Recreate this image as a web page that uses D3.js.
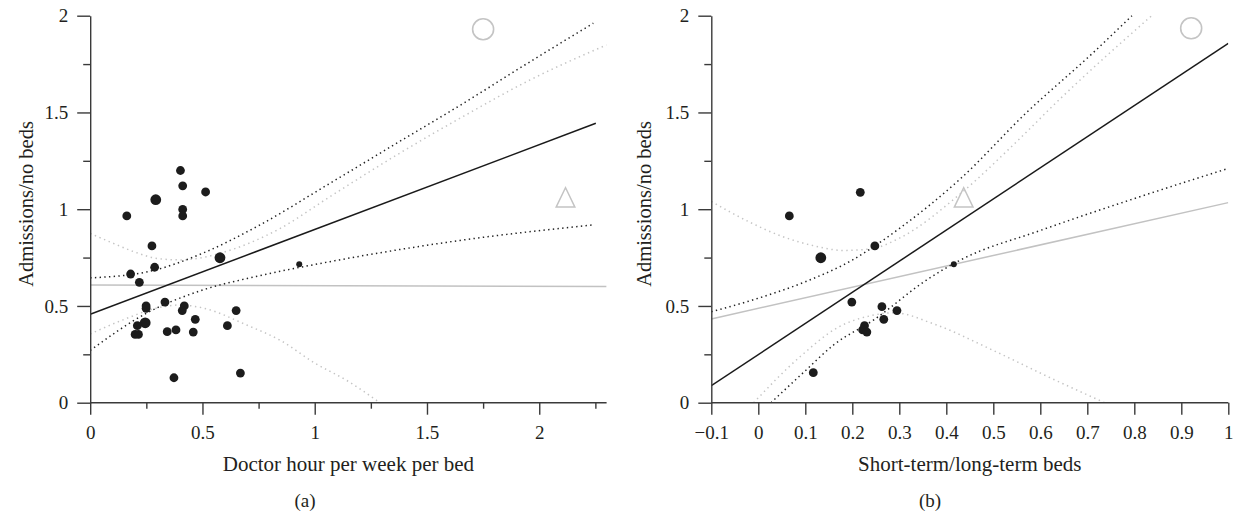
<!DOCTYPE html>
<html>
<head>
<meta charset="utf-8">
<script src="https://cdn.jsdelivr.net/npm/d3@7"></script>
<style>
  body { margin: 0; background: #fff; }
  svg text { font-family: "Liberation Serif", "DejaVu Serif", serif; fill: #231f20; }
</style>
</head>
<body>
<svg id="chart" width="1234" height="516"></svg>
<script>
// ---- panel (a): doctor hours ----
const aPointX = [0.402, 0.412, 0.514, 0.292, 0.412, 0.412, 0.163, 0.275, 0.578, 0.931,
                 0.287, 0.180, 0.219, 0.333, 0.249, 0.249, 0.419, 0.410, 0.650, 0.468,
                 0.245, 0.210, 0.200, 0.215, 0.611, 0.343, 0.382, 0.459, 0.373, 0.669];
const aPointY = [1.200, 1.121, 1.089, 1.049, 0.999, 0.965, 0.965, 0.810, 0.749, 0.715,
                 0.700, 0.665, 0.622, 0.520, 0.500, 0.488, 0.500, 0.476, 0.476, 0.431,
                 0.413, 0.398, 0.353, 0.353, 0.398, 0.367, 0.376, 0.365, 0.129, 0.153];
const aPointW = [1, 1, 1, 2, 1, 1, 1, 1, 2, 0, 1, 1, 1, 1, 1, 1, 1, 1, 1, 1,
                 2, 1, 1, 1, 1, 1, 1, 1, 1, 1];

const aFitX = [0, 2.252], aFitY = [0.457, 1.444];
const aFlatX = [0, 2.3], aFlatY = [0.608, 0.600];
const aCiUpX = [0, 0.25, 0.5, 0.75, 1.068, 1.365, 1.662, 1.959, 2.241];
const aCiUpY = [0.645, 0.675, 0.772, 0.915, 1.134, 1.341, 1.547, 1.762, 1.961];
const aCiLoX = [0, 0.25, 0.5, 0.75, 1.068, 1.662, 2.234];
const aCiLoY = [0.270, 0.462, 0.582, 0.655, 0.729, 0.841, 0.918];
const aGrayUpX = [0, 0.1, 0.2, 0.3, 0.4, 0.5, 0.578, 0.845, 1.068, 1.365, 1.662, 1.959, 2.3];
const aGrayUpY = [0.875, 0.825, 0.778, 0.745, 0.738, 0.750, 0.772, 0.900, 1.065, 1.280, 1.480, 1.668, 1.849];
const aGrayLoX = [0, 0.15, 0.3, 0.4, 0.5, 0.7, 0.85, 1.0, 1.15, 1.29];
const aGrayLoY = [0.355, 0.430, 0.490, 0.505, 0.490, 0.400, 0.320, 0.205, 0.110, 0];
const aMarkX = [1.75, 2.117], aMarkY = [1.93, 1.05];

// ---- panel (b): short-term / long-term beds ----
const bPointX = [0.217, 0.066, 0.248, 0.133, 0.416, 0.199, 0.263, 0.295, 0.267, 0.226, 0.222, 0.231, 0.117];
const bPointY = [1.087, 0.965, 0.810, 0.749, 0.715, 0.520, 0.496, 0.476, 0.431, 0.398, 0.376, 0.365, 0.155];
const bPointW = [1, 1, 1, 2, 0, 1, 1, 1, 1, 1, 1, 1, 1];

const bFitX = [-0.1, 1.0], bFitY = [0.088, 1.857];
const bFlatX = [-0.1, 1.0], bFlatY = [0.433, 1.034];
const bCiUpX = [-0.1, 0.0, 0.1, 0.2, 0.3, 0.429, 0.571, 0.713, 0.795];
const bCiUpY = [0.470, 0.540, 0.625, 0.737, 0.900, 1.155, 1.500, 1.810, 2.0];
const bCiLoX = [0.027, 0.1, 0.16, 0.245, 0.358, 0.429, 0.6, 0.8, 1.0];
const bCiLoY = [0, 0.165, 0.298, 0.427, 0.634, 0.736, 0.890, 1.055, 1.211];
const bGrayUpX = [-0.1, -0.02, 0.05, 0.12, 0.18, 0.24, 0.3, 0.43, 0.55, 0.642, 0.837];
const bGrayUpY = [1.040, 0.935, 0.860, 0.810, 0.787, 0.795, 0.850, 1.080, 1.350, 1.570, 2.0];
const bGrayLoX = [-0.01, 0.09, 0.17, 0.24, 0.29, 0.37, 0.5, 0.62, 0.737];
const bGrayLoY = [0, 0.240, 0.390, 0.450, 0.465, 0.410, 0.270, 0.130, 0];
const bMarkX = [0.921, 0.437], bMarkY = [1.935, 1.05];

// ---- axes ----
const yMajor = [0, 0.5, 1, 1.5, 2];
const yMinor = [0.25, 0.75, 1.25, 1.75];
const aXMajor = [0, 0.5, 1, 1.5, 2];
const aXMinor = [0.25, 0.75, 1.25, 1.75, 2.25];
const bXMajor = [-0.1, 0, 0.1, 0.2, 0.3, 0.4, 0.5, 0.6, 0.7, 0.8, 0.9, 1];

const svg = d3.select("#chart");
const zip = (xs, ys) => xs.map((x, i) => [x, ys[i]]);

function panel(o) {
  const x = d3.scaleLinear().domain(o.xDomain).range(o.xRange);
  const y = d3.scaleLinear().domain([0, 2]).range([402.7, 15.7]);
  const g = svg.append("g");

  const clipId = "clip-" + o.tag;
  svg.append("clipPath").attr("id", clipId)
    .append("rect")
    .attr("x", o.xRange[0]).attr("y", y(2) - 1)
    .attr("width", o.xRange[1] - o.xRange[0]).attr("height", y(0) - y(2) + 1);

  const plot = g.append("g").attr("clip-path", `url(#${clipId})`);
  const line = d3.line().x(d => x(d[0])).y(d => y(d[1])).curve(d3.curveMonotoneX);

  // gray reference band and line
  [o.grayUp, o.grayLo].forEach(d => plot.append("path").attr("d", line(d))
    .attr("fill", "none").attr("stroke", "#c4c4c4").attr("stroke-width", 1.5)
    .attr("stroke-dasharray", "1.4 3.6"));
  plot.append("path").attr("d", line(o.flat))
    .attr("fill", "none").attr("stroke", "#c2c2c2").attr("stroke-width", 1.5);

  // regression and its interval
  [o.ciUp, o.ciLo].forEach(d => plot.append("path").attr("d", line(d))
    .attr("fill", "none").attr("stroke", "#222").attr("stroke-width", 1.5)
    .attr("stroke-dasharray", "1.4 3.3"));
  plot.append("path").attr("d", line(o.fit))
    .attr("fill", "none").attr("stroke", "#1a1a1a").attr("stroke-width", 1.5);

  // points
  const rad = [3, 4.4, 5.4];
  plot.selectAll("circle.pt").data(o.points).join("circle")
    .attr("class", "pt")
    .attr("cx", d => x(d[0])).attr("cy", d => y(d[1]))
    .attr("r", d => rad[d[2]])
    .attr("fill", "#1c1c1c");

  // hollow markers
  g.append("circle")
    .attr("cx", x(o.marks[0][0])).attr("cy", y(o.marks[0][1])).attr("r", 10.5)
    .attr("fill", "none").attr("stroke", "#c4c4c4").attr("stroke-width", 1.6);
  g.append("path")
    .attr("d", d3.symbol(d3.symbolTriangle, 150)())
    .attr("transform", `translate(${x(o.marks[1][0])},${y(o.marks[1][1]) + 1}) scale(1,1.2)`)
    .attr("fill", "none").attr("stroke", "#c4c4c4").attr("stroke-width", 1.4);

  // axes
  const axStyle = sel => {
    sel.selectAll("path, line").attr("stroke", "#3a3a3a").attr("stroke-width", 1.4);
    sel.selectAll("text").attr("font-size", 19).attr("fill", "#231f20")
      .style("font-family", "'Liberation Serif', serif");
  };
  g.append("g").attr("transform", `translate(0,${y(0)})`)
    .call(d3.axisBottom(x).tickValues(o.xMajor).tickSize(12).tickSizeOuter(0)
      .tickPadding(11).tickFormat(d => d < 0 ? "\u2212" + Math.abs(d) : d3.format("")(d)))
    .call(axStyle)
    .call(s => s.select(".domain").attr("d", `M${o.xRange[0]},0H${o.xRange[1]}`));
  if (o.xMinor.length) {
    g.append("g").attr("transform", `translate(0,${y(0)})`)
      .call(d3.axisBottom(x).tickValues(o.xMinor).tickSize(6).tickFormat(""))
      .call(axStyle).call(s => s.select(".domain").remove());
  }
  g.append("g").attr("transform", `translate(${o.xRange[0]},0)`)
    .call(d3.axisLeft(y).tickValues(yMajor).tickSize(13).tickSizeOuter(0).tickPadding(9)
      .tickFormat(d3.format("")))
    .call(axStyle);
  g.append("g").attr("transform", `translate(${o.xRange[0]},0)`)
    .call(d3.axisLeft(y).tickValues(yMinor).tickSize(7).tickFormat(""))
    .call(axStyle).call(s => s.select(".domain").remove());

  // titles
  const cx = (o.xRange[0] + o.xRange[1]) / 2;
  g.append("text").attr("x", cx).attr("y", 471).attr("text-anchor", "middle")
    .attr("font-size", 21).text(o.xTitle);
  g.append("text")
    .attr("transform", `translate(${o.xRange[0] - o.yTitleOff},204) rotate(-90)`)
    .attr("text-anchor", "middle").attr("font-size", 20.5).text("Admissions/no beds");
  g.append("text").attr("x", o.capX).attr("y", 507).attr("text-anchor", "middle")
    .attr("font-size", 19).text(o.caption);
}

panel({
  tag: "a", xDomain: [0, 2.3], xRange: [90.2, 606.6],
  points: aPointX.map((v, i) => [v, aPointY[i], aPointW[i]]),
  fit: zip(aFitX, aFitY), flat: zip(aFlatX, aFlatY),
  ciUp: zip(aCiUpX, aCiUpY), ciLo: zip(aCiLoX, aCiLoY),
  grayUp: zip(aGrayUpX, aGrayUpY), grayLo: zip(aGrayLoX, aGrayLoY),
  marks: zip(aMarkX, aMarkY),
  xMajor: aXMajor, xMinor: aXMinor,
  xTitle: "Doctor hour per week per bed", yTitleOff: 57, capX: 305, caption: "(a)"
});

panel({
  tag: "b", xDomain: [-0.1, 1.0], xRange: [711.3, 1228.3],
  points: bPointX.map((v, i) => [v, bPointY[i], bPointW[i]]),
  fit: zip(bFitX, bFitY), flat: zip(bFlatX, bFlatY),
  ciUp: zip(bCiUpX, bCiUpY), ciLo: zip(bCiLoX, bCiLoY),
  grayUp: zip(bGrayUpX, bGrayUpY), grayLo: zip(bGrayLoX, bGrayLoY),
  marks: zip(bMarkX, bMarkY),
  xMajor: bXMajor, xMinor: [],
  xTitle: "Short-term/long-term beds", yTitleOff: 60, capX: 930, caption: "(b)"
});
</script>
</body>
</html>
